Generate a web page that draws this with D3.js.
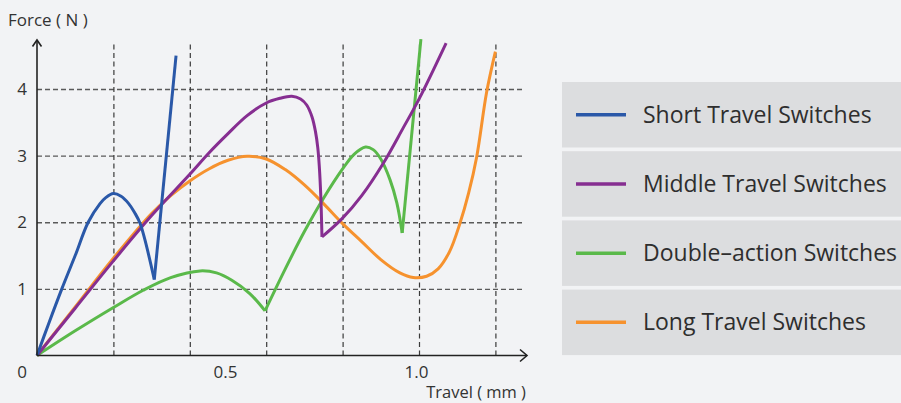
<!DOCTYPE html>
<html>
<head>
<meta charset="utf-8">
<script src="https://cdn.jsdelivr.net/npm/d3@7"></script>
<style>
  body { margin: 0; background: #f2f3f5; }
  svg { display: block; font-family: "Open Sans", sans-serif; }
</style>
</head>
<body>
<div id="chart"></div>
<script>
// Force curves: [travel mm, force N], split where the curve has a sharp corner
var shortTravel = [
    [[0, 0], [0.03, 0.47], [0.065, 1.0], [0.1, 1.5], [0.134, 2.0], [0.165, 2.28], [0.18, 2.37], [0.2, 2.43],
     [0.22, 2.39], [0.24, 2.28], [0.255, 2.15], [0.27, 1.98], [0.307, 1.14]],
    [[0.307, 1.14], [0.364, 4.5]]
];
var middleTravel = [
    [[0, 0], [0.1, 0.71], [0.2, 1.42], [0.3, 2.1], [0.4, 2.72], [0.45, 3.04], [0.5, 3.33], [0.55, 3.6],
     [0.6, 3.79], [0.636, 3.86], [0.667, 3.89], [0.69, 3.85], [0.706, 3.76], [0.72, 3.58], [0.729, 3.36],
     [0.735, 3.12], [0.739, 2.84], [0.743, 2.38], [0.746, 1.78]],
    [[0.746, 1.78], [0.798, 2.05], [0.85, 2.4], [0.907, 2.89], [0.959, 3.42], [1.001, 3.86], [1.071, 4.69]]
];
var doubleAction = [
    [[0, 0], [0.1, 0.37], [0.2, 0.72], [0.278, 0.98], [0.35, 1.17], [0.427, 1.27], [0.47, 1.24],
     [0.51, 1.13], [0.557, 0.93], [0.597, 0.67]],
    [[0.597, 0.67], [0.65, 1.3], [0.7, 1.86], [0.75, 2.36], [0.8, 2.8], [0.83, 3.02], [0.86, 3.13], [0.88, 3.09],
     [0.9, 2.95], [0.924, 2.64], [0.942, 2.29], [0.956, 1.84]],
    [[0.956, 1.84], [1.005, 4.75]]
];
var longTravel = [
    [[0, 0], [0.1, 0.73], [0.2, 1.46], [0.3, 2.13], [0.35, 2.4], [0.4, 2.62], [0.45, 2.8], [0.5, 2.93],
     [0.55, 2.99], [0.6, 2.95], [0.65, 2.79], [0.7, 2.56], [0.75, 2.28], [0.8, 1.98], [0.85, 1.71],
     [0.9, 1.44], [0.95, 1.24], [0.985, 1.17], [1.02, 1.19], [1.05, 1.3], [1.08, 1.56], [1.107, 1.98],
     [1.13, 2.44], [1.151, 2.98], [1.177, 3.95], [1.2, 4.56]]
];

var legendLabels = ["Short Travel Switches", "Middle Travel Switches", "Double\u2013action Switches", "Long Travel Switches"];
var seriesColors = ["#2a58a8", "#862e91", "#5ab94a", "#f6922e"];
var xGridValues = [0.2, 0.4, 0.6, 0.8, 1.0, 1.2];
var xTickValues = [0.5, 1.0];
var yTickValues = [1, 2, 3, 4];

var width = 901, height = 403;

var svg = d3.select("#chart").append("svg")
    .attr("width", width)
    .attr("height", height);

var x = d3.scaleLinear().domain([0, 1.2]).range([37, 495.4]);
var y = d3.scaleLinear().domain([0, 4]).range([355.5, 89]);

// ---- GRID ----
svg.append("g")
    .attr("class", "y-grid")
    .attr("transform", "translate(37,0)")
    .call(d3.axisLeft(y).tickValues(yTickValues).tickSize(-(525 - 37)).tickFormat(""))
    .call(g => g.select(".domain").remove())
    .selectAll("line")
    .attr("stroke", "#5a5a5a")
    .attr("stroke-width", 1.4)
    .attr("stroke-dasharray", "5,3");

svg.append("g")
    .attr("class", "x-grid")
    .attr("transform", "translate(0,355.5)")
    .call(d3.axisBottom(x).tickValues(xGridValues).tickSize(-(355.5 - 41)).tickFormat(""))
    .call(g => g.select(".domain").remove())
    .selectAll("line")
    .attr("stroke", "#3a3a3a")
    .attr("stroke-width", 1.2)
    .attr("stroke-dasharray", "5,3.5");

// ---- CURVES ----
var line = d3.line()
    .x(d => x(d[0]))
    .y(d => y(d[1]))
    .curve(d3.curveCatmullRom.alpha(0.5));

var drawOrder = [
    {data: longTravel, color: seriesColors[3]},
    {data: doubleAction, color: seriesColors[2]},
    {data: middleTravel, color: seriesColors[1]},
    {data: shortTravel, color: seriesColors[0]}
];

drawOrder.forEach(function(s) {
    svg.append("g").selectAll("path")
        .data(s.data)
        .enter()
        .append("path")
        .attr("d", line)
        .attr("fill", "none")
        .attr("stroke", s.color)
        .attr("stroke-width", 3)
        .attr("stroke-linejoin", "round");
});

// ---- AXES (arrows) ----
var axisColor = "#222";
svg.append("line")
    .attr("x1", 37).attr("y1", 355.5).attr("x2", 527).attr("y2", 355.5)
    .attr("stroke", axisColor).attr("stroke-width", 1.6);
svg.append("path")
    .attr("d", "M520,349.5L527,355.5L520,361.5")
    .attr("fill", "none").attr("stroke", axisColor).attr("stroke-width", 1.6);

svg.append("line")
    .attr("x1", 37).attr("y1", 355.5).attr("x2", 37).attr("y2", 40)
    .attr("stroke", axisColor).attr("stroke-width", 1.6);
svg.append("path")
    .attr("d", "M32.5,46.5L37,40L41.5,46.5")
    .attr("fill", "none").attr("stroke", axisColor).attr("stroke-width", 1.6);

// ---- TICK LABELS ----
var yLabels = svg.append("g")
    .attr("transform", "translate(37,0)")
    .call(d3.axisLeft(y).tickValues(yTickValues).tickSize(0).tickPadding(10).tickFormat(d3.format("d")));
yLabels.select(".domain").remove();
yLabels.selectAll("text")
    .attr("fill", "#333")
    .attr("font-size", 17)
    .attr("font-family", "Open Sans");

var xLabels = svg.append("g")
    .attr("transform", "translate(0,355.5)")
    .call(d3.axisBottom(x).tickValues(xTickValues).tickSize(0).tickPadding(10).tickFormat(d3.format(".1f")));
xLabels.select(".domain").remove();
xLabels.selectAll("text")
    .attr("fill", "#333")
    .attr("font-size", 17)
    .attr("font-family", "Open Sans")
    .attr("dx", -3);

svg.append("text")
    .attr("x", 22).attr("y", 378)
    .attr("text-anchor", "middle")
    .attr("font-size", 17)
    .attr("fill", "#333")
    .text("0");

// ---- AXIS TITLES ----
svg.append("text")
    .attr("x", 8).attr("y", 26)
    .attr("font-size", 17)
    .attr("fill", "#333")
    .text("Force ( N )");

svg.append("text")
    .attr("x", 526).attr("y", 398)
    .attr("text-anchor", "end")
    .attr("font-size", 16.5)
    .attr("fill", "#333")
    .text("Travel ( mm )");

// ---- LEGEND ----
var rowTop = 82, rowHeight = 65.5, rowGap = 3.7;
var legend = svg.append("g").attr("class", "legend");

var rows = legend.selectAll("g")
    .data(legendLabels)
    .enter()
    .append("g")
    .attr("transform", (d, i) => "translate(562," + (rowTop + i * (rowHeight + rowGap)) + ")");

rows.append("rect")
    .attr("width", 350)
    .attr("height", rowHeight)
    .attr("fill", "#dcdddf");

rows.append("line")
    .attr("x1", 14).attr("x2", 64)
    .attr("y1", rowHeight / 2).attr("y2", rowHeight / 2)
    .attr("stroke", (d, i) => seriesColors[i])
    .attr("stroke-width", 3.5);

rows.append("text")
    .attr("x", 81)
    .attr("y", rowHeight / 2)
    .attr("dy", "0.35em")
    .attr("font-size", 23)
    .attr("fill", "#2e2e2e")
    .text(d => d);
</script>
</body>
</html>
